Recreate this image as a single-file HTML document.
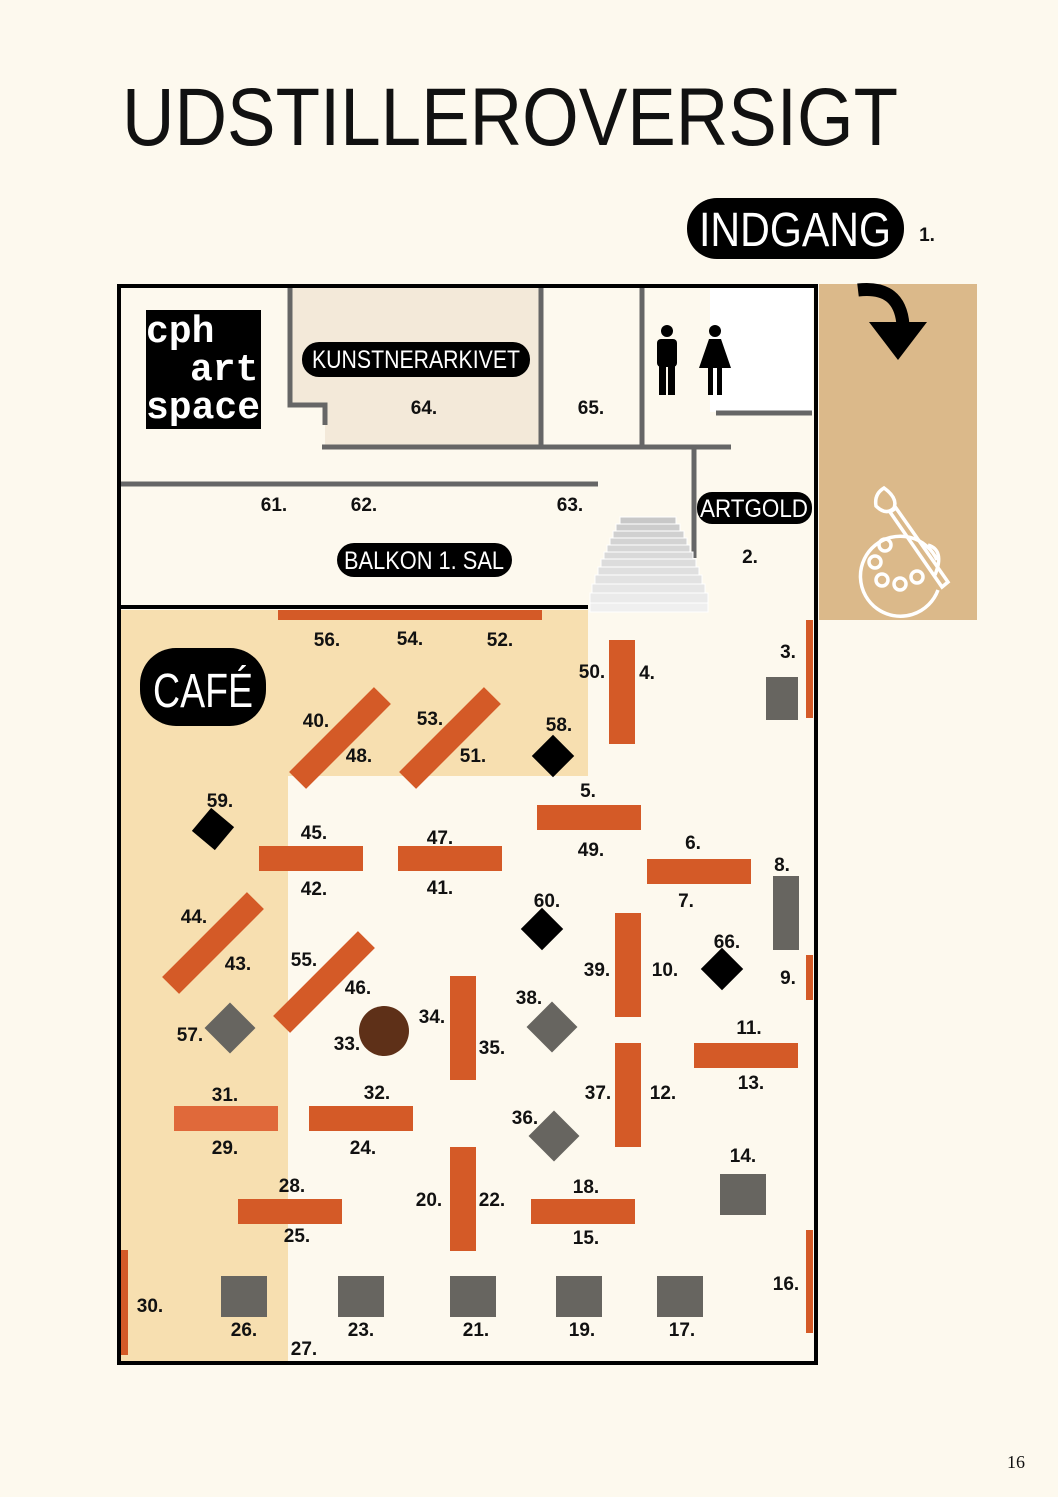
<!DOCTYPE html>
<html><head><meta charset="utf-8"><style>
html,body{margin:0;padding:0;background:#fdf9ee;}
svg{display:block;}
.n{font-family:"Liberation Sans",sans-serif;font-weight:bold;font-size:19px;fill:#111;text-anchor:middle;}
.p{font-family:"Liberation Sans Narrow","Liberation Sans",sans-serif;fill:#fff;text-anchor:middle;}
</style></head><body>
<svg width="1058" height="1497" viewBox="0 0 1058 1497" xmlns="http://www.w3.org/2000/svg">
<rect width="1058" height="1497" fill="#fdf9ee"/>
<text x="510" y="145" font-family="Liberation Sans Narrow,Liberation Sans,sans-serif" font-size="82" textLength="776" lengthAdjust="spacingAndGlyphs" text-anchor="middle" fill="#111">UDSTILLEROVERSIGT</text>
<rect x="687" y="198" width="217" height="61" rx="30" fill="#000"/>
<text class="p" x="795" y="246" font-size="48" textLength="192" lengthAdjust="spacingAndGlyphs">INDGANG</text>
<text class="n" x="927" y="241">1.</text>
<!-- tan panel -->
<rect x="819" y="284" width="158" height="336" fill="#dbb98a"/>
<path d="M858 290 Q900 285 903 325" stroke="#000" stroke-width="13" fill="none"/>
<polygon points="869,322 927,322 898,360" fill="#000"/>
<g stroke="#fff" stroke-width="3.5" fill="none">
<path d="M937 560 A40 40 0 1 0 938 590"/>
<path d="M928 545 Q945 550 935 575"/>
<path d="M890 512 L896 508 L948 582 L942 587 Z"/>
<path d="M884 488 Q874 494 876 506 Q886 516 894 508 Q898 498 884 488 Z"/>
<circle cx="885" cy="545" r="6"/><circle cx="875" cy="562" r="6"/><circle cx="882" cy="580" r="6"/><circle cx="900" cy="584" r="6"/><circle cx="917" cy="577" r="6"/>
</g>
<!-- cafe area -->
<rect x="118" y="610" width="470" height="166" fill="#f7dfb0"/>
<rect x="118" y="610" width="170" height="752" fill="#f7dfb0"/>
<!-- archive -->
<path d="M290 288 H541 V447 H325 V405 H290 Z" fill="#f3e9d9"/>
<rect x="710" y="288" width="103" height="124" fill="#fff"/>
<!-- walls -->
<g stroke="#666" stroke-width="5" fill="none">
<path d="M290 288 V405 H325 V425"/>
<path d="M322 447 H731"/>
<path d="M541 288 V447"/>
<path d="M642 288 V447"/>
<path d="M716 413 H812"/>
<path d="M694 447 V558"/>
<path d="M118 484 H598"/>
</g>
<line x1="118" y1="607" x2="588" y2="607" stroke="#000" stroke-width="4"/>
<!-- stairs -->
<g stroke="#fff" stroke-width="1">
<rect x="620" y="517" width="56" height="7" fill="#c8c8c8"/>
<rect x="616" y="524" width="64" height="7" fill="#ccc"/>
<rect x="613" y="531" width="71" height="7" fill="#d0d0d0"/>
<rect x="610" y="538" width="77" height="7" fill="#d3d3d3"/>
<rect x="607" y="545" width="83" height="7" fill="#d6d6d6"/>
<rect x="604" y="552" width="89" height="7" fill="#d9d9d9"/>
<rect x="601" y="559" width="95" height="8" fill="#dcdcdc"/>
<rect x="598" y="567" width="101" height="8" fill="#dfdfdf"/>
<rect x="595" y="575" width="107" height="9" fill="#e2e2e2"/>
<rect x="592" y="584" width="113" height="9" fill="#e6e6e6"/>
<rect x="590" y="593" width="118" height="10" fill="#eaeaea"/>
<rect x="590" y="603" width="118" height="9" fill="#efefef"/>
</g>
<!-- frame -->
<rect x="119" y="286" width="697" height="1077" fill="none" stroke="#000" stroke-width="4"/>
<!-- cph art space -->
<rect x="146" y="310" width="115" height="119" fill="#000"/>
<g font-family="Liberation Mono,monospace" font-weight="bold" font-size="38" fill="#fff">
<text x="146" y="342">cph</text><text x="190" y="380">art</text><text x="146" y="418" textLength="114" lengthAdjust="spacingAndGlyphs">space</text>
</g>
<rect x="302" y="342" width="228" height="35" rx="17" fill="#000"/>
<text class="p" x="416" y="368" font-size="25" textLength="208" lengthAdjust="spacingAndGlyphs">KUNSTNERARKIVET</text>
<rect x="337" y="543" width="175" height="34" rx="17" fill="#000"/>
<text class="p" x="424" y="569" font-size="25" textLength="160" lengthAdjust="spacingAndGlyphs">BALKON 1. SAL</text>
<rect x="697" y="492" width="115" height="32" rx="15" fill="#000"/>
<text class="p" x="754" y="517" font-size="25" textLength="108" lengthAdjust="spacingAndGlyphs">ARTGOLD</text>
<rect x="140" y="648" width="126" height="78" rx="36" fill="#000"/>
<text class="p" x="203" y="707" font-size="48" textLength="100" lengthAdjust="spacingAndGlyphs">CAFÉ</text>
<!-- toilets -->
<g fill="#000">
<circle cx="667" cy="331" r="6"/><rect x="657" y="339" width="20" height="28" rx="4"/><rect x="659" y="362" width="7" height="33"/><rect x="668" y="362" width="7" height="33"/>
<circle cx="715" cy="331" r="6"/><polygon points="709,339 721,339 731,368 699,368"/><rect x="708" y="366" width="5" height="29"/><rect x="717" y="366" width="5" height="29"/>
</g>
<!-- orange bars -->
<g fill="#d45a27">
<rect x="278" y="610" width="264" height="10"/>
<rect x="537" y="805" width="104" height="25"/>
<rect x="647" y="859" width="104" height="25"/>
<rect x="259" y="846" width="104" height="25"/>
<rect x="398" y="846" width="104" height="25"/>
<rect x="694" y="1043" width="104" height="25"/>
<rect x="174" y="1106" width="104" height="25" fill="#e0693a"/>
<rect x="309" y="1106" width="104" height="25"/>
<rect x="238" y="1199" width="104" height="25"/>
<rect x="531" y="1199" width="104" height="25"/>
<rect x="609" y="640" width="26" height="104"/>
<rect x="615" y="913" width="26" height="104"/>
<rect x="615" y="1043" width="26" height="104"/>
<rect x="450" y="976" width="26" height="104"/>
<rect x="450" y="1147" width="26" height="104"/>
<rect x="806" y="620" width="7" height="98"/>
<rect x="806" y="955" width="7" height="45"/>
<rect x="806" y="1230" width="7" height="103"/>
<rect x="121" y="1250" width="7" height="105"/>
<rect x="-60" y="-12" width="120" height="24" transform="translate(340,738) rotate(-45)"/>
<rect x="-60" y="-12" width="120" height="24" transform="translate(450,738) rotate(-45)"/>
<rect x="-60" y="-12" width="120" height="24" transform="translate(213,943) rotate(-45)"/>
<rect x="-60" y="-12" width="120" height="24" transform="translate(324,982) rotate(-45)"/>
</g>
<!-- gray -->
<g fill="#676560">
<rect x="766" y="677" width="32" height="43"/>
<rect x="773" y="876" width="26" height="74"/>
<rect x="720" y="1174" width="46" height="41"/>
<rect x="221" y="1276" width="46" height="41"/>
<rect x="338" y="1276" width="46" height="41"/>
<rect x="450" y="1276" width="46" height="41"/>
<rect x="556" y="1276" width="46" height="41"/>
<rect x="657" y="1276" width="46" height="41"/>
<rect x="-18" y="-18" width="36" height="36" transform="translate(230,1028) rotate(45)"/>
<rect x="-18" y="-18" width="36" height="36" transform="translate(552,1027) rotate(45)"/>
<rect x="-18" y="-18" width="36" height="36" transform="translate(554,1136) rotate(45)"/>
</g>
<g fill="#000">
<rect x="-15" y="-15" width="30" height="30" transform="translate(553,756) rotate(45)"/>
<rect x="-15" y="-15" width="30" height="30" transform="translate(213,829) rotate(40)"/>
<rect x="-15" y="-15" width="30" height="30" transform="translate(542,929) rotate(45)"/>
<rect x="-15" y="-15" width="30" height="30" transform="translate(722,969) rotate(45)"/>
</g>
<circle cx="384" cy="1031" r="25" fill="#5e3018"/>
<!-- labels -->
<g class="n">
<text x="424" y="414">64.</text><text x="591" y="414">65.</text>
<text x="274" y="511">61.</text><text x="364" y="511">62.</text><text x="570" y="511">63.</text>
<text x="750" y="563">2.</text><text x="788" y="658">3.</text>
<text x="327" y="646">56.</text><text x="410" y="645">54.</text><text x="500" y="646">52.</text>
<text x="592" y="678">50.</text><text x="647" y="679">4.</text>
<text x="316" y="727">40.</text><text x="359" y="762">48.</text>
<text x="430" y="725">53.</text><text x="473" y="762">51.</text><text x="559" y="731">58.</text>
<text x="588" y="797">5.</text><text x="220" y="807">59.</text>
<text x="314" y="839">45.</text><text x="440" y="844">47.</text><text x="591" y="856">49.</text>
<text x="693" y="849">6.</text><text x="782" y="871">8.</text>
<text x="314" y="895">42.</text><text x="440" y="894">41.</text><text x="547" y="907">60.</text><text x="686" y="907">7.</text>
<text x="194" y="923">44.</text><text x="238" y="970">43.</text><text x="304" y="966">55.</text><text x="358" y="994">46.</text>
<text x="597" y="976">39.</text><text x="665" y="976">10.</text><text x="727" y="948">66.</text><text x="788" y="984">9.</text>
<text x="529" y="1004">38.</text><text x="432" y="1023">34.</text><text x="347" y="1050">33.</text><text x="492" y="1054">35.</text>
<text x="190" y="1041">57.</text><text x="749" y="1034">11.</text><text x="751" y="1089">13.</text>
<text x="225" y="1101">31.</text><text x="377" y="1099">32.</text><text x="598" y="1099">37.</text><text x="663" y="1099">12.</text>
<text x="525" y="1124">36.</text><text x="225" y="1154">29.</text><text x="363" y="1154">24.</text>
<text x="743" y="1162">14.</text><text x="292" y="1192">28.</text><text x="586" y="1193">18.</text>
<text x="429" y="1206">20.</text><text x="492" y="1206">22.</text>
<text x="297" y="1242">25.</text><text x="586" y="1244">15.</text><text x="786" y="1290">16.</text>
<text x="150" y="1312">30.</text><text x="244" y="1336">26.</text><text x="361" y="1336">23.</text><text x="476" y="1336">21.</text>
<text x="582" y="1336">19.</text><text x="682" y="1336">17.</text><text x="304" y="1355">27.</text>
</g>
<text x="1016" y="1468" font-family="Liberation Serif,serif" font-size="18" text-anchor="middle" fill="#111">16</text>
</svg>
</body></html>
